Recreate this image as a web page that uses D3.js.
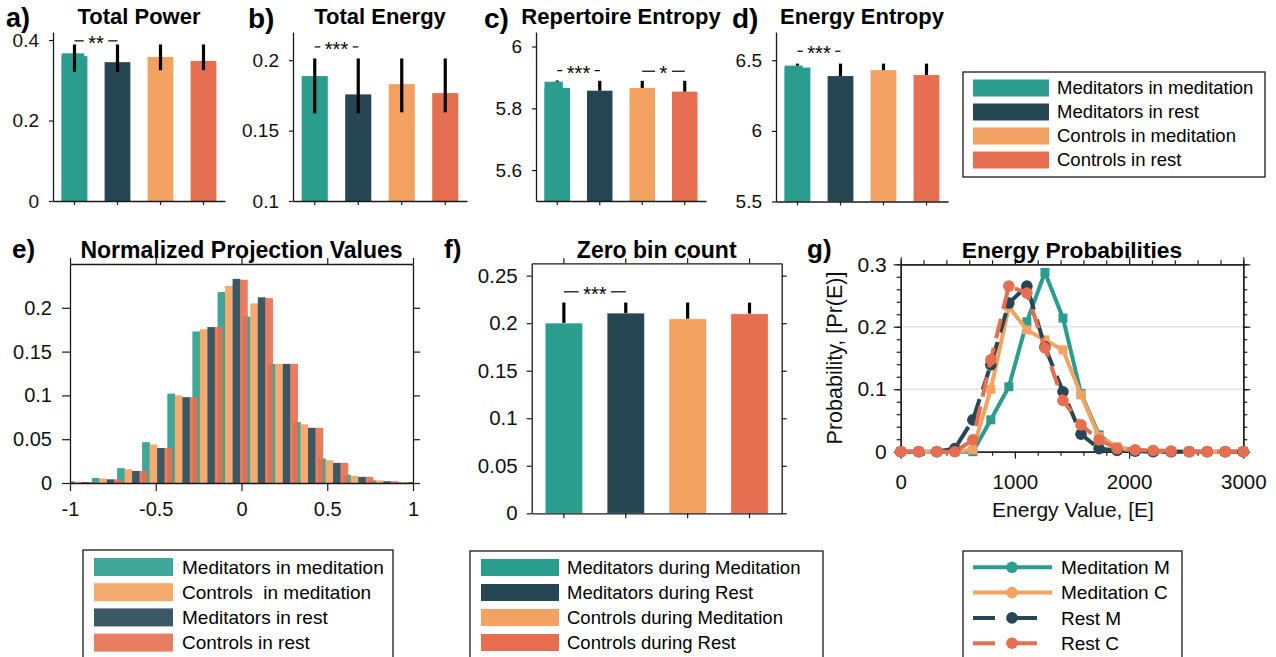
<!DOCTYPE html>
<html>
<head>
<meta charset="utf-8">
<title>Meditation figure</title>
<script src="https://cdn.jsdelivr.net/npm/d3@7/dist/d3.min.js"></script>
<style>
  body { margin: 0; background: #fff; }
  svg { display: block; font-family: "Liberation Sans", Arial, Helvetica, sans-serif; }
</style>
</head>
<body>
<svg id="fig" width="1276" height="657"></svg>
<script>
// ---- values ----
var barColors = ["#2a9d8f", "#264653", "#f4a261", "#e76f51"];
var barGroups = ["Meditators in meditation", "Meditators in rest", "Controls in meditation", "Controls in rest"];

// a) Total Power
var powerMean = [0.36, 0.345, 0.358, 0.348];
var powerPeak = 0.367;
var powerErrLo = [0.321, 0.321, 0.325, 0.325];
var powerErrHi = [0.389, 0.389, 0.389, 0.389];
var powerTicks = [0, 0.2, 0.4];
var powerSig = [{ a: 0, b: 1, y: 0.398, label: "**" }];

// b) Total Energy
var energyMean = [0.1887, 0.1757, 0.183, 0.1766];
var energyErrLo = [0.1622, 0.1622, 0.163, 0.163];
var energyErrHi = [0.2012, 0.2012, 0.2012, 0.2012];
var energyTicks = [0.1, 0.15, 0.2];
var energySig = [{ a: 0, b: 1, y: 0.2094, label: "***" }];

// c) Repertoire Entropy
var repMean = [5.866, 5.857, 5.866, 5.854];
var repPeak = 5.886;
var repErrHi = [5.89, 5.889, 5.889, 5.889];
var repTicks = [5.6, 5.8, 6];
var repSig = [{ a: 0, b: 1, y: 5.922, label: "***" }, { a: 2, b: 3, y: 5.92, label: "*" }];

// d) Energy Entropy
var entMean = [6.448, 6.388, 6.43, 6.395];
var entPeak = 6.462;
var entErrHi = [6.476, 6.476, 6.476, 6.476];
var entTicks = [5.5, 6, 6.5];
var entSig = [{ a: 0, b: 1, y: 6.564, label: "***" }];

// e) Normalized Projection Values (histogram, 14 bins)
var projBins = [-0.932, -0.785, -0.638, -0.492, -0.345, -0.199, -0.052, 0.095, 0.241, 0.388, 0.534, 0.681, 0.827, 0.974];
var projMedMed = [0.002, 0.0057, 0.017, 0.0466, 0.102, 0.173, 0.218, 0.19, 0.136, 0.0695, 0.028, 0.0095, 0.003, 0.001];
var projCtrlMed = [0.0015, 0.005, 0.0156, 0.044, 0.1, 0.1756, 0.225, 0.205, 0.136, 0.067, 0.026, 0.008, 0.003, 0.001];
var projMedRest = [0.001, 0.0042, 0.0137, 0.04, 0.098, 0.178, 0.233, 0.212, 0.136, 0.063, 0.023, 0.007, 0.002, 0.001];
var projCtrlRest = [0.001, 0.0042, 0.0137, 0.04, 0.098, 0.178, 0.232, 0.211, 0.136, 0.063, 0.023, 0.007, 0.002, 0.001];
var projXTicks = [-1, -0.5, 0, 0.5, 1];
var projYTicks = [0, 0.05, 0.1, 0.15, 0.2];
var projLegend = ["Meditators in meditation", "Controls  in meditation", "Meditators in rest", "Controls in rest"];

// f) Zero bin count
var zeroMean = [0.2, 0.2105, 0.2045, 0.2098];
var zeroErrHi = [0.2217, 0.2217, 0.2217, 0.2217];
var zeroTicks = [0, 0.05, 0.1, 0.15, 0.2, 0.25];
var zeroSig = [{ a: 0, b: 1, y: 0.233, label: "***" }];
var zeroLegend = ["Meditators during Meditation", "Meditators during Rest", "Controls during Meditation", "Controls during Rest"];

// g) Energy Probabilities
var energyValues = [0, 158, 316, 474, 632, 789, 947, 1105, 1263, 1421, 1579, 1737, 1895, 2053, 2211, 2368, 2526, 2684, 2842, 3000];
var probMedM = [0, 0, 0, 0, 0, 0.051, 0.104, 0.208, 0.287, 0.214, 0.093, 0.027, 0.005, 0.002, 0, 0, 0, 0, 0, 0];
var probMedC = [0, 0, 0, 0, 0.003, 0.1, 0.232, 0.195, 0.179, 0.163, 0.091, 0.024, 0.008, 0.002, 0.001, 0, 0, 0, 0, 0];
var probRestM = [0, 0, 0, 0.005, 0.051, 0.139, 0.238, 0.265, 0.168, 0.096, 0.028, 0.005, 0.002, 0.001, 0, 0, 0, 0, 0, 0];
var probRestC = [0, 0, 0, 0, 0.019, 0.147, 0.265, 0.254, 0.166, 0.082, 0.043, 0.019, 0.005, 0.003, 0.002, 0.001, 0, 0, 0, 0];
var probXTicks = [0, 1000, 2000, 3000];
var probYTicks = [0, 0.1, 0.2, 0.3];
var probLegend = ["Meditation M", "Meditation C", "Rest M", "Rest C"];

// ---- drawing ----
var svg = d3.select("#fig");
var ink = "#1a1a1a";
svg.append("rect").attr("width", 1276).attr("height", 657).attr("fill", "#fff");

var fmt = function (d) { return String(Math.round(d * 1000) / 1000); };

function styleAxis(sel, size) {
    sel.attr("font-family", null).attr("font-size", size || 19);
    sel.select(".domain").attr("stroke", ink).attr("stroke-width", 1.3);
    sel.selectAll(".tick line").attr("stroke", ink).attr("stroke-width", 1.2);
    sel.selectAll(".tick text").attr("fill", "#111");
    return sel;
}

function panelLabel(txt, x, y, size) {
    svg.append("text").attr("x", x).attr("y", y).attr("font-size", size)
        .attr("font-weight", "bold").attr("fill", "#000").text(txt);
}

function title(txt, cx, y, size) {
    svg.append("text").attr("x", cx).attr("y", y).attr("text-anchor", "middle")
        .attr("font-size", size || 22).attr("font-weight", "bold").attr("fill", "#000").text(txt);
}

function drawSig(g, cx, y, list) {
    list.forEach(function (s) {
        var xa = cx(s.a), xb = cx(s.b), yy = y(s.y), mid = (xa + xb) / 2;
        var t = g.append("text").attr("x", mid).attr("y", yy + 9).attr("text-anchor", "middle")
            .attr("font-size", 20).attr("fill", "#000").text(s.label);
        var half = (t.node().getComputedTextLength() + 9) / 2;
        g.append("line").attr("x1", xa).attr("x2", mid - half).attr("y1", yy).attr("y2", yy)
            .attr("stroke", "#000").attr("stroke-width", 1.2);
        g.append("line").attr("x1", mid + half).attr("x2", xb).attr("y1", yy).attr("y2", yy)
            .attr("stroke", "#000").attr("stroke-width", 1.2);
    });
}

// bar panels a-d (open axes)
function barPanel(p) {
    var g = svg.append("g");
    var x = d3.scaleBand().domain(d3.range(p.values.length)).range([p.x0, p.x1])
        .paddingInner(0.4).paddingOuter(0.2);
    var y = d3.scaleLinear().domain(p.domain).range([p.y1, p.y0]);
    var bw = x.bandwidth();
    var cx = function (i) { return x(i) + bw / 2; };

    g.selectAll("rect.bar").data(p.values).join("rect").attr("class", "bar")
        .attr("x", function (d, i) { return x(i); })
        .attr("width", bw)
        .attr("y", function (d) { return y(d); })
        .attr("height", function (d) { return p.y1 - y(d); })
        .attr("fill", function (d, i) { return barColors[i]; });
    if (p.peak != null) {
        g.append("rect").attr("x", x(0)).attr("width", bw * p.peakFrac)
            .attr("y", y(p.peak)).attr("height", p.y1 - y(p.peak)).attr("fill", barColors[0]);
    }
    g.selectAll("line.err").data(p.errHi).join("line").attr("class", "err")
        .attr("x1", function (d, i) { return cx(i); })
        .attr("x2", function (d, i) { return cx(i); })
        .attr("y1", function (d, i) {
            if (p.errLo) return y(p.errLo[i]);
            return y(i === 0 && p.peak != null ? p.peak : p.values[i]);
        })
        .attr("y2", function (d) { return y(d); })
        .attr("stroke", "#000").attr("stroke-width", 3.2);

    styleAxis(g.append("g").attr("transform", "translate(" + p.x0 + ",0)")
        .call(d3.axisLeft(y).tickValues(p.ticks).tickFormat(fmt).tickSizeInner(4).tickSizeOuter(0).tickPadding(10)), 19);
    styleAxis(g.append("g").attr("transform", "translate(0," + p.y1 + ")")
        .call(d3.axisBottom(x).tickFormat("").tickSizeInner(4).tickSizeOuter(0)));

    drawSig(g, cx, y, p.sig);
    title(p.title, (p.x0 + p.x1) / 2, 23.5, 22);
}

barPanel({ x0: 53, x1: 225, y0: 32, y1: 201, domain: [0, 0.42], ticks: powerTicks,
    values: powerMean, peak: powerPeak, peakFrac: 0.88, errLo: powerErrLo, errHi: powerErrHi,
    sig: powerSig, title: "Total Power" });
barPanel({ x0: 293, x1: 467, y0: 32, y1: 201, domain: [0.1, 0.22], ticks: energyTicks,
    values: energyMean, errLo: energyErrLo, errHi: energyErrHi,
    sig: energySig, title: "Total Energy" });
barPanel({ x0: 536, x1: 706, y0: 32, y1: 201, domain: [5.5, 6.047], ticks: repTicks,
    values: repMean, peak: repPeak, peakFrac: 0.72, errHi: repErrHi,
    sig: repSig, title: "Repertoire Entropy" });
barPanel({ x0: 776, x1: 948, y0: 32, y1: 201.5, domain: [5.5, 6.7], ticks: entTicks,
    values: entMean, peak: entPeak, peakFrac: 0.7, errHi: entErrHi,
    sig: entSig, title: "Energy Entropy" });

panelLabel("a)", 6, 27, 27);
panelLabel("b)", 248, 28, 28);
panelLabel("c)", 484, 28, 28);
panelLabel("d)", 732, 28, 28);

// swatch legends
function swatchLegend(box, items, colors, opts) {
    var g = svg.append("g");
    g.append("rect").attr("x", box[0]).attr("y", box[1]).attr("width", box[2] - box[0])
        .attr("height", box[3] - box[1]).attr("fill", "#fff").attr("stroke", ink).attr("stroke-width", 1.3);
    items.forEach(function (name, i) {
        var cy = opts.row0 + i * opts.dy;
        g.append("rect").attr("x", opts.sx0).attr("width", opts.sx1 - opts.sx0)
            .attr("y", cy - opts.sh / 2).attr("height", opts.sh)
            .attr("fill", colors[i]).attr("fill-opacity", opts.alpha || 1);
        g.append("text").attr("x", opts.tx).attr("y", cy).attr("dy", "0.35em")
            .attr("font-size", opts.fs).attr("fill", "#000")
            .style("white-space", "pre").text(name);
    });
}

swatchLegend([963, 72, 1265, 177], barGroups, barColors,
    { row0: 88, dy: 24, sx0: 973, sx1: 1049, sh: 17, tx: 1057, fs: 18.5 });

// e) histogram
(function () {
    var x0 = 70, x1 = 413, y0 = 264, y1 = 483;
    var g = svg.append("g");
    var x = d3.scaleLinear().domain([-1, 1]).range([x0, x1]);
    var y = d3.scaleLinear().domain([0, 0.25]).range([y1, y0]);
    g.append("clipPath").attr("id", "clipE").append("rect")
        .attr("x", x0).attr("y", y0).attr("width", x1 - x0).attr("height", y1 - y0);
    var series = [projMedMed, projCtrlMed, projMedRest, projCtrlRest];
    var sColors = [barColors[0], barColors[2], barColors[1], barColors[3]];
    var offs = [-0.0875, -0.044, 0, 0.043], bwid = 0.0455;
    var bars = g.append("g").attr("clip-path", "url(#clipE)");
    series.forEach(function (vals, s) {
        bars.selectAll("rect.s" + s).data(vals).join("rect").attr("class", "s" + s)
            .attr("x", function (d, i) { return x(projBins[i] + offs[s]); })
            .attr("width", function (d, i) { return x(projBins[i] + offs[s] + bwid) - x(projBins[i] + offs[s]); })
            .attr("y", function (d) { return y(d); })
            .attr("height", function (d) { return y1 - y(d); })
            .attr("fill", sColors[s]).attr("fill-opacity", 0.9);
    });
    styleAxis(g.append("g").attr("transform", "translate(" + x0 + ",0)")
        .call(d3.axisLeft(y).tickValues(projYTicks).tickFormat(fmt).tickSizeInner(8).tickSizeOuter(0).tickPadding(10)), 20);
    styleAxis(g.append("g").attr("transform", "translate(" + x1 + ",0)")
        .call(d3.axisRight(y).tickValues(projYTicks).tickFormat("").tickSizeInner(7).tickSizeOuter(0)));
    styleAxis(g.append("g").attr("transform", "translate(0," + y1 + ")")
        .call(d3.axisBottom(x).tickValues(projXTicks).tickFormat(fmt).tickSizeInner(8).tickSizeOuter(0).tickPadding(11)), 20);
    styleAxis(g.append("g").attr("transform", "translate(0," + y0 + ")")
        .call(d3.axisTop(x).tickValues(projXTicks).tickFormat("").tickSizeInner(6).tickSizeOuter(0)));
    title("Normalized Projection Values", (x0 + x1) / 2, 258, 23);
    panelLabel("e)", 12, 258, 26);
})();

swatchLegend([83, 550, 393, 662], projLegend, [barColors[0], barColors[2], barColors[1], barColors[3]],
    { row0: 567, dy: 25.2, sx0: 94, sx1: 173, sh: 18, tx: 182, fs: 19, alpha: 0.9 });

// f) zero bin count
(function () {
    var x0 = 531.7, x1 = 781.7, y0 = 263.3, y1 = 513.3;
    var g = svg.append("g");
    var x = d3.scaleBand().domain(d3.range(zeroMean.length)).range([x0, x1])
        .paddingInner(0.4).paddingOuter(0.22);
    var y = d3.scaleLinear().domain([0, 0.263]).range([y1, y0]);
    var bw = x.bandwidth();
    var cx = function (i) { return x(i) + bw / 2; };
    g.selectAll("line.err").data(zeroErrHi).join("line").attr("class", "err")
        .attr("x1", function (d, i) { return cx(i); }).attr("x2", function (d, i) { return cx(i); })
        .attr("y1", function (d, i) { return y(zeroMean[i]); }).attr("y2", function (d) { return y(d); })
        .attr("stroke", "#000").attr("stroke-width", 3.2);
    g.selectAll("rect.bar").data(zeroMean).join("rect").attr("class", "bar")
        .attr("x", function (d, i) { return x(i); }).attr("width", bw)
        .attr("y", function (d) { return y(d); })
        .attr("height", function (d) { return y1 - y(d); })
        .attr("fill", function (d, i) { return barColors[i]; })
        .attr("stroke", "#fff").attr("stroke-opacity", 0.35).attr("stroke-width", 0.8);
    styleAxis(g.append("g").attr("transform", "translate(" + x0 + ",0)")
        .call(d3.axisLeft(y).tickValues(zeroTicks).tickFormat(fmt).tickSizeInner(5).tickSizeOuter(0).tickPadding(9)), 20.5);
    styleAxis(g.append("g").attr("transform", "translate(" + x1 + ",0)")
        .call(d3.axisRight(y).tickValues(zeroTicks).tickFormat("").tickSizeInner(5).tickSizeOuter(0)));
    styleAxis(g.append("g").attr("transform", "translate(0," + y1 + ")")
        .call(d3.axisBottom(x).tickFormat("").tickSizeInner(5).tickSizeOuter(0)));
    styleAxis(g.append("g").attr("transform", "translate(0," + y0 + ")")
        .call(d3.axisTop(x).tickFormat("").tickSizeInner(5).tickSizeOuter(0)));
    drawSig(g, cx, y, zeroSig);
    title("Zero bin count", (x0 + x1) / 2, 258, 23);
    panelLabel("f)", 444, 258, 26);
})();

swatchLegend([470, 551, 823, 662], zeroLegend, barColors,
    { row0: 567.5, dy: 25, sx0: 481, sx1: 559, sh: 17, tx: 567, fs: 18.5 });

// g) energy probabilities
var lineStyles = [
    { vals: probMedM, color: barColors[0], dash: null, marker: "square" },
    { vals: probMedC, color: barColors[2], dash: null, marker: "square" },
    { vals: probRestM, color: barColors[1], dash: "20,10", marker: "circle" },
    { vals: probRestC, color: barColors[3], dash: "20,10", marker: "circle" }
];

function drawMarker(g, kind, cx, cy, color) {
    if (kind === "square") {
        g.append("rect").attr("x", cx - 4.5).attr("y", cy - 4.5).attr("width", 9).attr("height", 9)
            .attr("fill", color);
    } else {
        g.append("circle").attr("cx", cx).attr("cy", cy).attr("r", 5.8).attr("fill", color);
    }
}

(function () {
    var x0 = 900.7, x1 = 1243.3, y0 = 264.3, y1 = 451.7;
    var g = svg.append("g");
    var x = d3.scaleLinear().domain([0, 3000]).range([x0, x1]);
    var y = d3.scaleLinear().domain([0, 0.3]).range([y1, y0]);
    g.selectAll("line.grid").data([0.1, 0.2]).join("line").attr("class", "grid")
        .attr("x1", x0).attr("x2", x1).attr("y1", function (d) { return y(d); }).attr("y2", function (d) { return y(d); })
        .attr("stroke", "#e3e3e3").attr("stroke-width", 1.5);

    var xMinor = d3.range(0, 3001, 200), yMinor = d3.range(0, 0.301, 0.02);
    [[d3.axisBottom, y1], [d3.axisTop, y0]].forEach(function (a) {
        styleAxis(g.append("g").attr("transform", "translate(0," + a[1] + ")")
            .call(a[0](x).tickValues(xMinor).tickFormat("").tickSizeInner(4).tickSizeOuter(0)));
    });
    [[d3.axisLeft, x0], [d3.axisRight, x1]].forEach(function (a) {
        styleAxis(g.append("g").attr("transform", "translate(" + a[1] + ",0)")
            .call(a[0](y).tickValues(yMinor).tickFormat("").tickSizeInner(4).tickSizeOuter(0)));
    });
    styleAxis(g.append("g").attr("transform", "translate(0," + y1 + ")")
        .call(d3.axisBottom(x).tickValues(probXTicks).tickFormat(fmt).tickSizeInner(7).tickSizeOuter(0).tickPadding(16)), 20.5);
    styleAxis(g.append("g").attr("transform", "translate(0," + y0 + ")")
        .call(d3.axisTop(x).tickValues(probXTicks).tickFormat("").tickSizeInner(7).tickSizeOuter(0)));
    styleAxis(g.append("g").attr("transform", "translate(" + x0 + ",0)")
        .call(d3.axisLeft(y).tickValues(probYTicks).tickFormat(fmt).tickSizeInner(7).tickSizeOuter(0).tickPadding(7)), 21);
    styleAxis(g.append("g").attr("transform", "translate(" + x1 + ",0)")
        .call(d3.axisRight(y).tickValues(probYTicks).tickFormat("").tickSizeInner(7).tickSizeOuter(0)));

    var line = d3.line().x(function (d, i) { return x(energyValues[i]); }).y(function (d) { return y(d); });
    lineStyles.forEach(function (s) {
        g.append("path").datum(s.vals).attr("d", line).attr("fill", "none")
            .attr("stroke", s.color).attr("stroke-width", 4)
            .attr("stroke-dasharray", s.dash).attr("stroke-linejoin", "round");
        s.vals.forEach(function (v, i) { drawMarker(g, s.marker, x(energyValues[i]), y(v), s.color); });
    });

    svg.append("text").attr("x", 1073).attr("y", 517).attr("text-anchor", "middle")
        .attr("font-size", 21).attr("fill", "#111").text("Energy Value, [E]");
    svg.append("text").attr("transform", "translate(842," + ((y0 + y1) / 2) + ") rotate(-90)")
        .attr("text-anchor", "middle").attr("font-size", 21.5).attr("fill", "#111").text("Probability, [Pr(E)]");
    title("Energy Probabilities", (x0 + x1) / 2, 258, 22.8);
    panelLabel("g)", 807, 258, 26);
})();

// legend g
(function () {
    var g = svg.append("g");
    g.append("rect").attr("x", 963).attr("y", 551).attr("width", 219).attr("height", 111)
        .attr("fill", "#fff").attr("stroke", ink).attr("stroke-width", 1.3);
    lineStyles.forEach(function (s, i) {
        var cy = 567.3 + i * 25.3;
        g.append("line").attr("x1", 973).attr("x2", s.dash ? 1037 : 1052).attr("y1", cy).attr("y2", cy)
            .attr("stroke", s.color).attr("stroke-width", 4)
            .attr("stroke-dasharray", s.dash ? "22,12,30" : null);
        drawMarker(g, "circle", 1012, cy, s.color);
        g.append("text").attr("x", 1061).attr("y", cy).attr("dy", "0.35em")
            .attr("font-size", 19).attr("fill", "#000").text(probLegend[i]);
    });
})();
</script>
</body>
</html>
